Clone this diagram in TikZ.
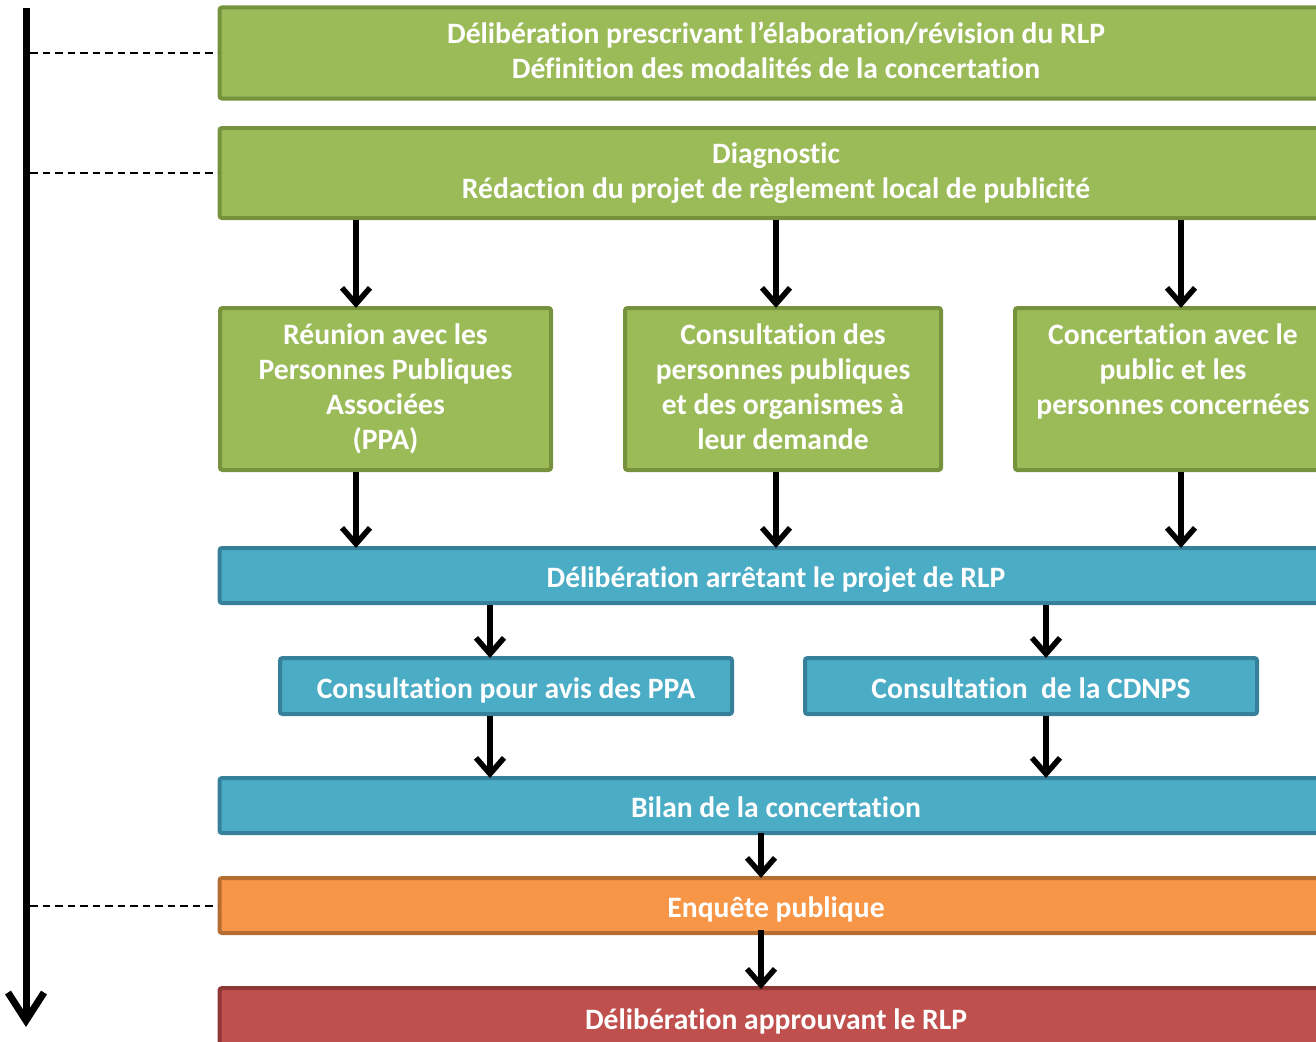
\documentclass[tikz,border=0pt]{standalone}
\usepackage{fontspec}
\setmainfont[Ligatures={NoCommon,NoRare}]{Carlito}
\usetikzlibrary{arrows.meta}
\definecolor{gfill}{HTML}{9BBB59}
\definecolor{gline}{HTML}{76923C}
\definecolor{bfill}{HTML}{4BACC6}
\definecolor{bline}{HTML}{37809A}
\definecolor{ofill}{HTML}{F79646}
\definecolor{oline}{HTML}{B66D31}
\definecolor{rfill}{HTML}{C0504D}
\definecolor{rline}{HTML}{8E3735}
\tikzset{
  box/.style={draw, line width=4pt, rounded corners=2.5pt, inner sep=0pt,
    text=white, font=\fontsize{29.6}{35}\selectfont\bfseries, align=center,
    execute at begin node=\rule{0pt}{29.5pt}, execute at end node=\rule[-5.5pt]{0pt}{0pt}},
  gbox/.style={box, fill=gfill, draw=gline},
  bbox/.style={box, fill=bfill, draw=bline},
  obox/.style={box, fill=ofill, draw=oline},
  rbox/.style={box, fill=rfill, draw=rline},
  arr/.style={line width=5.5pt, -{Straight Barb[length=16pt, width=28pt, line width=5.5pt]}},
  dline/.style={line width=2pt, dash pattern=on 7.5pt off 5pt},
}
\begin{document}
\begin{tikzpicture}[x=1pt,y=-1pt]
\useasboundingbox (0,0) rectangle (1316,1041);
\clip (0,0) rectangle (1316,1041);
% boxes
\node[gbox, minimum width=1113pt, minimum height=91pt] (n1) at (776,53) {Délibération prescrivant l’élaboration/révision du RLP\\Définition des modalités de la concertation};
\node[gbox, minimum width=1113pt, minimum height=90pt] (n2) at (776,173) {Diagnostic\\Rédaction du projet de règlement local de publicité};
\node[gbox, minimum width=331pt, minimum height=162pt] (pa) at (385.5,389) {Réunion avec les\\Personnes Publiques\\Associées\\(PPA)};
\node[gbox, minimum width=316pt, minimum height=162pt] (pb) at (783,389) {Consultation des\\personnes publiques\\et des organismes à\\leur demande};
\node[gbox, minimum width=316pt, minimum height=162pt] (pc) at (1173,389) {Concertation avec le\\public et les\\personnes concernées\\\mbox{}};
\node[bbox, minimum width=1113pt, minimum height=55pt] (arret) at (776,575.5) {Délibération arrêtant le projet de RLP};
\node[bbox, minimum width=452pt, minimum height=56pt] (ca) at (506,686) {Consultation pour avis des PPA};
\node[bbox, minimum width=452pt, minimum height=56pt] (cb) at (1031,686) {Consultation\ \ de la CDNPS};
\node[bbox, minimum width=1113pt, minimum height=55pt] (bilan) at (776,805.5) {Bilan de la concertation};
\node[obox, minimum width=1113pt, minimum height=55pt] (enq) at (776,905.5) {Enquête publique};
\node[rbox, minimum width=1113pt, minimum height=58pt] (appr) at (776,1017) {Délibération approuvant le RLP};
% arrow columns
\coordinate (x1) at (356,0);
\coordinate (x2) at (776,0);
\coordinate (x3) at (1181,0);
\coordinate (x4) at (490,0);
\coordinate (x5) at (1046,0);
\coordinate (x6) at (761,0);
\foreach \c/\t in {x1/pa, x2/pb, x3/pc}{
  \draw[arr] (n2.south -| \c) -- ([yshift=-2pt]\t.north -| \c);
  \draw[arr] (\t.south -| \c) -- ([yshift=-2pt]arret.north -| \c);
}
\draw[arr] (arret.south -| x4) -- ([yshift=-2pt]ca.north -| x4);
\draw[arr] (arret.south -| x5) -- ([yshift=-2pt]cb.north -| x5);
\draw[arr] (ca.south -| x4) -- ([yshift=-2pt]bilan.north -| x4);
\draw[arr] (cb.south -| x5) -- ([yshift=-2pt]bilan.north -| x5);
\draw[arr] ([yshift=2pt]bilan.south -| x6) -- ([yshift=-2pt]enq.north -| x6);
\draw[arr] ([yshift=5pt]enq.south -| x6) -- ([yshift=-3pt]appr.north -| x6);
% time axis
\coordinate (ttop) at (26,8);
\coordinate (tbot) at (26,1027);
\draw[line width=7pt, -{Straight Barb[length=28pt, width=36pt, line width=7pt]}] (ttop) -- (tbot);
\draw[dline] (30,0 |- n1.west) -- (n1.west);
\draw[dline] (30,0 |- n2.west) -- (n2.west);
\draw[dline] (30,0 |- enq.west) -- (enq.west);
\end{tikzpicture}
\end{document}
